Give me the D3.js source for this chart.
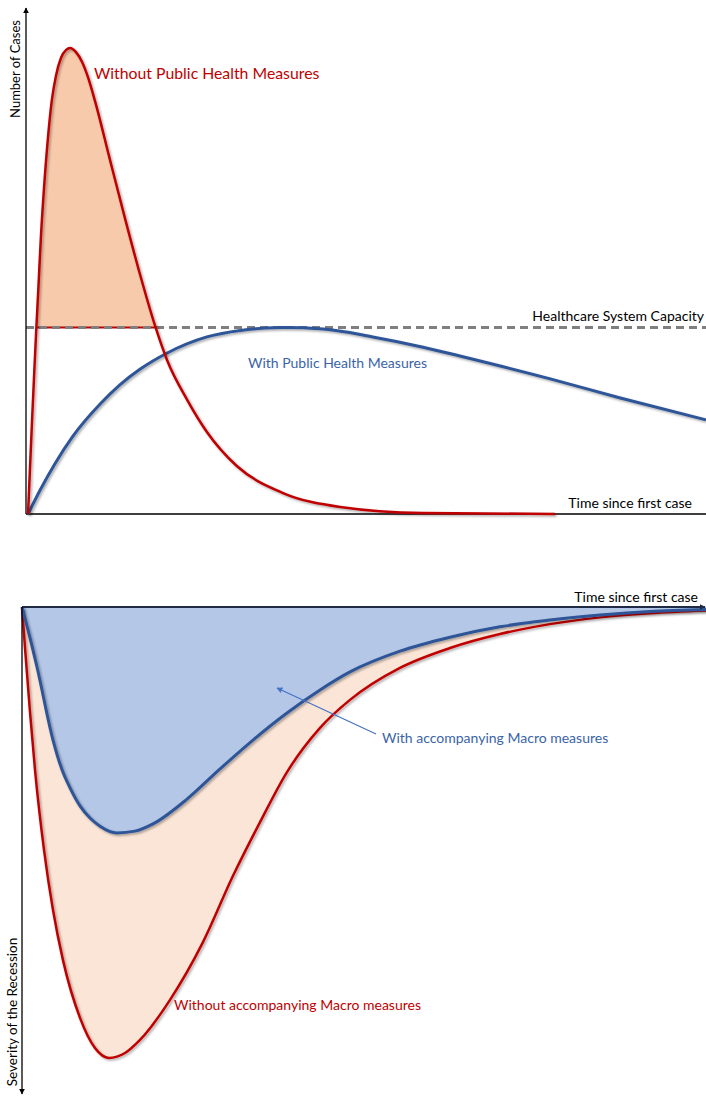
<!DOCTYPE html>
<html>
<head>
<meta charset="utf-8">
<script src="https://cdn.jsdelivr.net/npm/d3@7/dist/d3.min.js"></script>
<style>
  html, body { margin: 0; padding: 0; background: #fff; }
  svg { display: block; }
  text { font-family: Lato, "Open Sans", sans-serif; }
</style>
</head>
<body>
<svg id="chart" width="706" height="1096"></svg>
<script>
// ---------- DATA ----------
// Top panel: number of cases vs time since first case (time 0..100, cases 0..100)
const casesNoMeasuresT = [0.3, 0.6, 0.9, 1.2, 1.5, 1.8, 2.2, 2.65, 3.25, 3.8, 4.4, 5.15, 5.9, 6.5, 7.35, 8.25, 9.1, 10.15, 12.35, 14.55, 16.75, 19.0, 20.75, 23.7, 26.6, 31.0, 37.8, 46.2, 58.4, 77.8];
const casesNoMeasuresV = [0, 10.3, 20.4, 30.0, 39.3, 47.9, 59.7, 70.0, 81.1, 88.8, 94.0, 97.9, 99.6, 100, 99.1, 97.0, 93.8, 88.6, 76.0, 63.5, 51.5, 40.3, 33.0, 24.5, 17.6, 10.3, 4.5, 1.5, 0.2, 0];
const casesWithMeasuresT = [0.3, 2.1, 4.3, 6.9, 10.9, 13.8, 16.8, 20.7, 26.6, 31.5, 37.8, 43.7, 51.0, 58.4, 63.8, 77.1, 87.4, 100];
const casesWithMeasuresV = [0, 5.2, 10.9, 16.7, 23.6, 27.7, 31.1, 34.5, 38.0, 39.4, 40.0, 39.7, 38.0, 35.8, 33.9, 29.0, 24.9, 20.2];
const capacity = 40;

// Bottom panel: severity of the recession vs time since first case
const recessionNoMacroT = [0, 0.44, 1.17, 1.9, 3.22, 4.53, 5.99, 8.48, 10.67, 12.72, 15.06, 17.25, 21.64, 26.46, 30.85, 34.8, 38.74, 43.57, 47.95, 55.26, 62.57, 69.88, 77.19, 84.5, 91.81, 100];
const recessionNoMacroV = [0, 9.1, 23.3, 36.1, 53.9, 67.2, 78.3, 91.1, 97.8, 100, 98.9, 96.0, 87.1, 74.3, 59.6, 47.7, 36.6, 26.8, 20.6, 13.5, 9.1, 6.0, 3.8, 2.3, 1.4, 0.8];
const recessionMacroT = [0, 0.88, 2.19, 4.53, 5.85, 7.02, 8.48, 9.94, 11.4, 13.89, 16.52, 19.15, 24.12, 28.95, 33.77, 38.74, 43.57, 47.95, 55.26, 62.57, 69.88, 77.19, 84.5, 91.81, 100];
const recessionMacroV = [0, 5.1, 13.3, 29.5, 36.1, 40.1, 44.1, 46.8, 48.6, 50.1, 49.7, 48.1, 42.6, 35.9, 29.5, 23.5, 18.4, 14.4, 9.8, 6.7, 4.4, 2.9, 1.8, 1.0, 0.55];

// Labels
const labelNoMeasures = "Without Public Health Measures";
const labelWithMeasures = "With Public Health Measures";
const labelCapacity = "Healthcare System Capacity";
const labelTime = "Time since first case";
const labelCases = "Number of Cases";
const labelWithMacro = "With accompanying Macro measures";
const labelNoMacro = "Without accompanying Macro measures";
const labelSeverity = "Severity of the Recession";

// ---------- STYLE ----------
const RED = "#c00000";
const BLUE = "#2f5597";
const BLUE_TXT = "#3a64a8";
const ORANGE_FILL = "#f7caab";
const PEACH_FILL = "#fbe5d6";
const BLUE_FILL = "#b4c7e7";

const svg = d3.select("#chart");
const defs = svg.append("defs");
const shadow = defs.append("filter").attr("id", "shadow")
  .attr("x", "-10%").attr("y", "-10%").attr("width", "120%").attr("height", "120%");
shadow.append("feDropShadow").attr("dx", 1.5).attr("dy", 1.5)
  .attr("stdDeviation", 1.2).attr("flood-color", "#000").attr("flood-opacity", 0.35);

function arrowMarker(id, color) {
  defs.append("marker").attr("id", id)
    .attr("viewBox", "0 0 10 10").attr("refX", 9).attr("refY", 5)
    .attr("markerWidth", 6).attr("markerHeight", 6).attr("markerUnits", "userSpaceOnUse")
    .attr("orient", "auto")
    .append("path").attr("d", "M0,0 L10,5 L0,10 Z").attr("fill", color);
}
arrowMarker("arrBlack", "#000");
arrowMarker("arrNavy", "#1f2a44");
arrowMarker("arrBlue", "#4472c4");

const zip = (t, v) => t.map((d, i) => ({ t: d, v: v[i] }));
const curve = d3.curveMonotoneX;

// ---------- TOP PANEL ----------
const xTop = d3.scaleLinear().domain([0, 100]).range([26, 706]);
const yTop = d3.scaleLinear().domain([0, 100]).range([514, 48]);
const redTop = zip(casesNoMeasuresT, casesNoMeasuresV);
const blueTop = zip(casesWithMeasuresT, casesWithMeasuresV);

const gTop = svg.append("g");
defs.append("clipPath").attr("id", "aboveCap")
  .append("rect").attr("x", 0).attr("y", 0).attr("width", 706).attr("height", yTop(capacity));

const peakPts = redTop.filter(d => d.t <= 24);
gTop.append("path")
  .datum(peakPts)
  .attr("clip-path", "url(#aboveCap)")
  .attr("fill", ORANGE_FILL)
  .attr("d", d3.area().curve(curve).x(d => xTop(d.t)).y0(yTop(capacity)).y1(d => yTop(d.v)));

// red solid segment beneath the dashed capacity line inside the filled region
gTop.append("line")
  .attr("x1", xTop(1.5)).attr("x2", xTop(19.05))
  .attr("y1", yTop(capacity)).attr("y2", yTop(capacity))
  .attr("stroke", RED).attr("stroke-width", 2);

// capacity dashed line
gTop.append("line")
  .attr("x1", xTop(0)).attr("x2", 706)
  .attr("y1", yTop(capacity)).attr("y2", yTop(capacity))
  .attr("stroke", "#7f7f7f").attr("stroke-width", 3).attr("stroke-dasharray", "8,5");

// axes
gTop.append("line").attr("x1", xTop(0)).attr("x2", xTop(0)).attr("y1", yTop(0)).attr("y2", 8)
  .attr("stroke", "#000").attr("stroke-width", 1.3).attr("marker-end", "url(#arrBlack)");
gTop.append("line").attr("x1", xTop(0)).attr("x2", 706).attr("y1", yTop(0)).attr("y2", yTop(0))
  .attr("stroke", "#000").attr("stroke-width", 1.5);

// lines
const lineTop = d3.line().curve(curve).x(d => xTop(d.t)).y(d => yTop(d.v));
gTop.append("path").datum(blueTop).attr("d", lineTop)
  .attr("fill", "none").attr("stroke", BLUE).attr("stroke-width", 3).attr("filter", "url(#shadow)");
gTop.append("path").datum(redTop).attr("d", lineTop)
  .attr("fill", "none").attr("stroke", RED).attr("stroke-width", 2.5).attr("filter", "url(#shadow)");

// labels
gTop.append("text").attr("x", 94).attr("y", 79).attr("fill", RED).attr("font-size", 15.8).text(labelNoMeasures);
gTop.append("text").attr("x", 248).attr("y", 368).attr("fill", BLUE_TXT).attr("font-size", 14).text(labelWithMeasures);
gTop.append("text").attr("x", 704).attr("y", 321).attr("text-anchor", "end").attr("fill", "#000").attr("font-size", 14).text(labelCapacity);
gTop.append("text").attr("x", 692).attr("y", 508).attr("text-anchor", "end").attr("fill", "#000").attr("font-size", 14).text(labelTime);
gTop.append("text").attr("transform", "translate(20,69) rotate(-90)").attr("text-anchor", "middle")
  .attr("fill", "#000").attr("font-size", 13).text(labelCases);

// ---------- BOTTOM PANEL ----------
const xBot = d3.scaleLinear().domain([0, 100]).range([22, 706]);
const yBot = d3.scaleLinear().domain([0, 100]).range([607, 1058]);
const redBot = zip(recessionNoMacroT, recessionNoMacroV);
const blueBot = zip(recessionMacroT, recessionMacroV);
const gBot = svg.append("g");

const areaBot = d3.area().curve(curve).x(d => xBot(d.t)).y0(yBot(0)).y1(d => yBot(d.v));
gBot.append("path").datum(redBot).attr("d", areaBot).attr("fill", PEACH_FILL);
gBot.append("path").datum(blueBot).attr("d", areaBot).attr("fill", BLUE_FILL);

const lineBot = d3.line().curve(curve).x(d => xBot(d.t)).y(d => yBot(d.v));
gBot.append("path").datum(redBot).attr("d", lineBot)
  .attr("fill", "none").attr("stroke", RED).attr("stroke-width", 2.5).attr("filter", "url(#shadow)");
gBot.append("path").datum(blueBot).attr("d", lineBot)
  .attr("fill", "none").attr("stroke", BLUE).attr("stroke-width", 3).attr("filter", "url(#shadow)");

// axes
gBot.append("line").attr("x1", xBot(0)).attr("x2", 705).attr("y1", yBot(0)).attr("y2", yBot(0))
  .attr("stroke", "#1f2a44").attr("stroke-width", 2).attr("marker-end", "url(#arrNavy)");
gBot.append("line").attr("x1", xBot(0)).attr("x2", xBot(0)).attr("y1", yBot(0)).attr("y2", 1094)
  .attr("stroke", "#000").attr("stroke-width", 1.3).attr("marker-end", "url(#arrBlack)");

// annotation arrow
gBot.append("line").attr("x1", 376).attr("y1", 734).attr("x2", 277).attr("y2", 688)
  .attr("stroke", "#4472c4").attr("stroke-width", 1.2).attr("marker-end", "url(#arrBlue)");

// labels
gBot.append("text").attr("x", 698).attr("y", 602).attr("text-anchor", "end").attr("fill", "#000").attr("font-size", 14).text(labelTime);
gBot.append("text").attr("x", 382).attr("y", 743).attr("fill", BLUE_TXT).attr("font-size", 14).text(labelWithMacro);
gBot.append("text").attr("x", 174).attr("y", 1010).attr("fill", RED).attr("font-size", 14).text(labelNoMacro);
gBot.append("text").attr("transform", "translate(17,1012) rotate(-90)").attr("text-anchor", "middle")
  .attr("fill", "#000").attr("font-size", 13.5).text(labelSeverity);
</script>
</body>
</html>
